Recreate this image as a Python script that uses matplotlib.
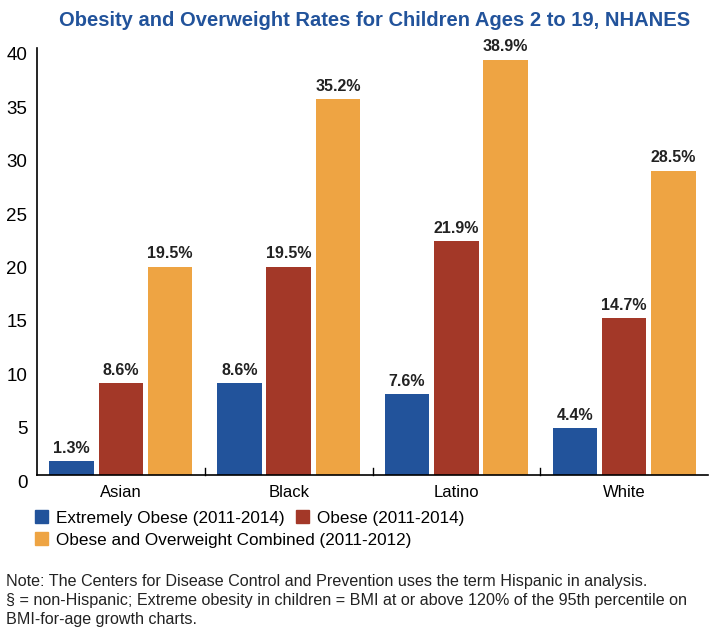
import matplotlib
matplotlib.use("Agg")
import matplotlib.pyplot as plt
import numpy as np
from matplotlib.patches import Patch
from matplotlib.transforms import ScaledTranslation

categories = ["Asian", "Black", "Latino", "White"]
extremely_obese = [1.3, 8.6, 7.6, 4.4]
obese = [8.6, 19.5, 21.9, 14.7]
combined = [19.5, 35.2, 38.9, 28.5]
series_names = ["Extremely Obese (2011-2014)", "Obese (2011-2014)",
                "Obese and Overweight Combined (2011-2012)"]
yticks = [0, 5, 10, 15, 20, 25, 30, 35, 40]

colors = ["#22539B", "#A33828", "#EEA443"]
fam = ["Liberation Sans", "DejaVu Sans"]

fig = plt.figure(figsize=(7.2, 6.37), dpi=100)
ax = fig.add_axes([37/720, 162/637, (708-37)/720, (475-48)/637])

x = np.arange(len(categories))
w = 0.265
step = 0.294
series = [extremely_obese, obese, combined]
for i, (vals, c) in enumerate(zip(series, colors)):
    bars = ax.bar(x + (i-1)*step, vals, width=w, color=c, zorder=2)
    for b, v in zip(bars, vals):
        ax.text(b.get_x() + b.get_width()/2, v + 0.5, f"{v}%", ha="center", va="bottom",
                fontsize=11.5, fontweight="bold", family=fam, color="#222222")

ax.set_xlim(-0.5, 3.5)
ax.set_ylim(0, 40)
ax.set_yticks(yticks)
ax.set_yticklabels([str(t) for t in yticks], family=fam, fontsize=13.5)
ax.tick_params(axis="y", length=0, pad=7)
for lab in ax.get_yticklabels():
    lab.set_transform(lab.get_transform() + ScaledTranslation(0, -6/100, fig.dpi_scale_trans))
ax.set_xticks(x)
ax.set_xticklabels(categories, family=fam, fontsize=12)
ax.tick_params(axis="x", length=0, pad=7)
for bnd in [0.5, 1.5, 2.5]:
    ax.plot([bnd, bnd], [0, 0.65], color="black", lw=1, zorder=3, clip_on=False)
for s in ["top", "right"]:
    ax.spines[s].set_visible(False)
ax.spines["left"].set_linewidth(1.2)
ax.spines["bottom"].set_linewidth(1.2)

fig.text(375/720, 1 - 20/637, "Obesity and Overweight Rates for Children Ages 2 to 19, NHANES",
         ha="center", va="center", fontsize=14.5, fontweight="bold", family=fam, color="#22539B")

h = [Patch(color=c) for c in colors]
common = dict(frameon=False, handlelength=0.75, handleheight=0.75, handletextpad=0.45,
              borderpad=0, borderaxespad=0, prop={"family": fam, "size": 12.3})
leg1 = fig.legend(h[:2], series_names[:2], loc="center left", bbox_to_anchor=(35/720, 1 - 518/637),
                  ncol=2, columnspacing=0.7, **common)
leg2 = fig.legend(h[2:], series_names[2:], loc="center left", bbox_to_anchor=(35/720, 1 - 540/637),
                  **common)

note = ("Note: The Centers for Disease Control and Prevention uses the term Hispanic in analysis.\n"
        "§ = non-Hispanic; Extreme obesity in children = BMI at or above 120% of the 95th percentile on\n"
        "BMI-for-age growth charts.")
fig.text(6/720, 1 - 574/637, note, ha="left", va="top", fontsize=11.6, family=fam,
         color="#222222", linespacing=1.32)

fig.savefig("out.png", dpi=100)
